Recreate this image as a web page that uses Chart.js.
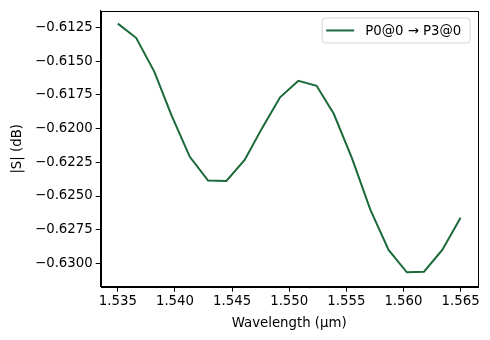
<!DOCTYPE html>
<html>
<head>
<meta charset="utf-8">
<script src="https://cdn.jsdelivr.net/npm/chart.js@4"></script>
<style>
  html, body { margin: 0; padding: 0; background: #fff; }
  #wrap { width: 490px; height: 340px; }
</style>
</head>
<body>
<div id="wrap"><canvas id="graph" width="490" height="340"></canvas></div>
<script>
// wavelength samples (um) and |S| values (dB)
const wavelength = [1.5350, 1.5366, 1.5382, 1.5397, 1.5413, 1.5429, 1.5445, 1.5461, 1.5476, 1.5492,
                    1.5508, 1.5524, 1.5539, 1.5555, 1.5571, 1.5587, 1.5603, 1.5618, 1.5634, 1.5650];
const s_dB = [-0.61221, -0.61326, -0.61579, -0.61902, -0.62209, -0.62385, -0.62388, -0.62233, -0.62000, -0.61768,
              -0.61645, -0.61682, -0.61890, -0.62221, -0.62601, -0.62900, -0.63066, -0.63062, -0.62900, -0.62662];
const xTicks = [1.535, 1.540, 1.545, 1.550, 1.555, 1.560, 1.565];
const yTicks = [-0.6300, -0.6275, -0.6250, -0.6225, -0.6200, -0.6175, -0.6150, -0.6125];
const seriesLabel = 'P0@0 \u2192 P3@0';
const lineColor = '#1a6a3a';

const FONT = { family: 'DejaVu Sans', size: 13.3 };

// matplotlib style frame + legend inside the axes
const framePlugin = {
  id: 'frame',
  afterDatasetsDraw(chart) {
    const { ctx, chartArea: a } = chart;
    ctx.save();
    ctx.strokeStyle = '#000';
    ctx.lineWidth = 1;
    ctx.strokeRect(Math.round(a.left) + 0.5, Math.round(a.top) + 0.5,
                   Math.round(a.right - a.left), Math.round(a.bottom - a.top));

    const bw = 148, bh = 25;
    const bx = a.right - 7.5 - bw, by = a.top + 7;
    ctx.beginPath();
    ctx.roundRect(bx, by, bw, bh, 3);
    ctx.fillStyle = 'rgba(255,255,255,0.8)';
    ctx.fill();
    ctx.strokeStyle = '#d6d6d6';
    ctx.stroke();
    const ly = by + bh / 2;
    ctx.beginPath();
    ctx.moveTo(bx + 4, ly);
    ctx.lineTo(bx + 32, ly);
    ctx.strokeStyle = lineColor;
    ctx.lineWidth = 2;
    ctx.stroke();
    ctx.fillStyle = '#000';
    ctx.font = '13.3px "DejaVu Sans"';
    ctx.textBaseline = 'middle';
    ctx.fillText(seriesLabel, bx + 43, ly + 1);
    ctx.restore();
  }
};

const chart = new Chart(document.getElementById('graph').getContext('2d'), {
  type: 'line',
  data: {
    datasets: [{
      label: seriesLabel,
      data: wavelength.map((w, i) => ({ x: w, y: s_dB[i] })),
      borderColor: lineColor,
      borderWidth: 2,
      pointRadius: 0,
      tension: 0,
      fill: false
    }]
  },
  options: {
    responsive: false,
    animation: false,
    layout: { padding: { left: 0, right: 12.3, top: 10.3, bottom: 0 } },
    plugins: { legend: { display: false }, tooltip: { enabled: false } },
    scales: {
      x: {
        type: 'linear',
        min: 1.5335, max: 1.5665,
        afterBuildTicks: s => { s.ticks = xTicks.map(v => ({ value: v })); },
        afterFit: s => { s.height = 53.3; },
        grid: { drawOnChartArea: false, tickLength: 5, tickColor: '#000', color: '#000' },
        border: { color: '#000' },
        ticks: { color: '#000', font: FONT, padding: 2, maxRotation: 0,
                 callback: v => v.toFixed(3) },
        title: { display: true, text: 'Wavelength (\u03bcm)', color: '#000', font: FONT,
                 padding: { top: 0, bottom: 8 } }
      },
      y: {
        min: -0.63173, max: -0.61127,
        afterBuildTicks: s => { s.ticks = yTicks.map(v => ({ value: v })); },
        afterFit: s => { s.width = 100.7; },
        grid: { drawOnChartArea: false, tickLength: 5, tickColor: '#000', color: '#000' },
        border: { color: '#000' },
        ticks: { color: '#000', font: FONT, padding: 3,
                 callback: v => (v < 0 ? '\u2212' : '') + Math.abs(v).toFixed(4) },
        title: { display: true, text: '|S| (dB)', color: '#000', font: FONT,
                 padding: { top: 10, bottom: 0 } }
      }
    }
  },
  plugins: [framePlugin]
});
</script>
</body>
</html>
